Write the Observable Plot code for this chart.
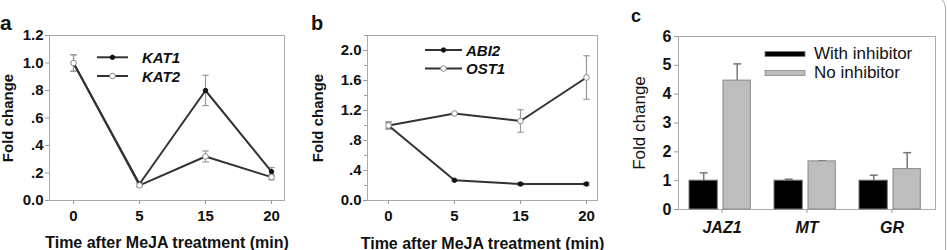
<!DOCTYPE html>
<html><head><meta charset="utf-8">
<script src="https://cdn.jsdelivr.net/npm/d3@7"></script>
<script src="https://cdn.jsdelivr.net/npm/@observablehq/plot@0.6"></script>
<style>
body{margin:0;background:#fff;}
#wrap{position:relative;width:947px;height:250px;overflow:hidden;background:#fff;font-family:"Liberation Sans",Arial,sans-serif;}
.panel{position:absolute;top:0;}
.panel svg{overflow:visible;}
#border{position:absolute;left:-20px;top:-4px;width:964px;height:300px;border:1px solid #aaa;border-radius:12px;pointer-events:none;}
#overlay{position:absolute;left:0;top:0;}
g[aria-label$="tick"]{stroke:#999;}
g[aria-label="y-axis label"], g[aria-label="x-axis label"]{font-size:16px;}
#pa g[aria-label="y-axis label"], #pb g[aria-label="y-axis label"]{font-size:15px;}
#pc g[aria-label="y-axis label"]{font-size:17px;font-weight:normal;}
#pc g[aria-label="x-axis tick label"]{font-style:italic;}
</style></head><body><div id="wrap"><div id="border"></div></div>
<script>
// ---- data ----
const times = ["0", "5", "15", "20"];
const kat1 = [1.0, 0.12, 0.80, 0.21];
const kat1Err = [0.06, 0.01, 0.11, 0.03];
const kat2 = [1.0, 0.11, 0.32, 0.17];
const kat2Err = [0.06, 0.01, 0.04, 0.02];
const abi2 = [1.0, 0.27, 0.22, 0.22];
const abi2Err = [0.04, 0.01, 0.02, 0.02];
const ost1 = [1.0, 1.16, 1.06, 1.64];
const ost1Err = [0.05, 0.01, 0.15, 0.29];
const genes = ["JAZ1", "MT", "GR"];
const withInhibitor = [1.0, 1.0, 1.0];
const withInhibitorErr = [0.27, 0.05, 0.19];
const noInhibitor = [4.47, 1.67, 1.40];
const noInhibitorErr = [0.58, 0.02, 0.57];
const aTicks = [0, 0.2, 0.4, 0.6, 0.8, 1.0, 1.2];
const bTicks = [0, 0.4, 0.8, 1.2, 1.6, 2.0];
const bMinor = [0.2, 0.6, 1.0, 1.4, 1.8, 2.2];
const cTicks = [0, 1, 2, 3, 4, 5, 6];

const font = '"Liberation Sans", Arial, sans-serif';
const wrap = document.getElementById("wrap");
const hbar = {draw(ctx, size) { const r = Math.sqrt(size) * 0.9; ctx.moveTo(-r, 0); ctx.lineTo(r, 0); }};
const fmt = d => d === 0 ? "0.0" : (d >= 1 ? d.toFixed(1) : d.toFixed(1).slice(1));

function addPanel(id, left, width, svg) {
  const div = document.createElement("div");
  div.className = "panel"; div.id = id;
  div.style.left = left + "px"; div.style.width = width + "px";
  div.appendChild(svg);
  wrap.appendChild(div);
}

function linePanel(o) {
  const marks = [Plot.frame({stroke: "#aaa"})];
  marks.push(Plot.axisY({ticks: o.yTicks, tickFormat: fmt, tickSize: 4, tickPadding: 2,
    label: "Fold change", labelAnchor: "center", labelOffset: o.labelOffset, labelArrow: false}));
  if (o.yMinor) marks.push(Plot.axisY({ticks: o.yMinor, tickFormat: () => "", tickSize: 3, label: null}));
  marks.push(Plot.axisX({ticks: [0, 1, 2, 3], tickFormat: i => times[i], tickSize: 4, tickPadding: 6,
    label: "Time after MeJA treatment (min)", labelAnchor: "center", labelOffset: o.xLabelOffset, labelArrow: false}));
  const sets = o.series.map(s => times.map((t, i) => ({i, v: s.values[i], e: s.err[i]})));
  sets.forEach(d => {
    marks.push(Plot.ruleX(d, {x: "i", y1: r => r.v - r.e, y2: r => r.v + r.e, stroke: "#999", strokeWidth: 1.2}));
    marks.push(Plot.dot(d, {x: "i", y: r => r.v + r.e, symbol: hbar, r: 2, stroke: "#999", strokeWidth: 1.2}));
    marks.push(Plot.dot(d, {x: "i", y: r => r.v - r.e, symbol: hbar, r: 2, stroke: "#999", strokeWidth: 1.2}));
  });
  sets.forEach(d => marks.push(Plot.line(d, {x: "i", y: "v", stroke: "#333", strokeWidth: 2})));
  sets.forEach((d, k) => {
    const filled = o.series[k].filled;
    marks.push(Plot.dot(d, {x: "i", y: "v", r: filled ? 2.2 : 2.8,
      fill: filled ? "#111" : "#fff", stroke: filled ? "#111" : "#888", strokeWidth: 1}));
  });
  return Plot.plot({
    width: o.width, height: 250,
    marginLeft: o.marginLeft, marginRight: o.marginRight, marginTop: 35, marginBottom: 50,
    style: {fontFamily: font, fontSize: "15px", fontWeight: "bold", color: "#111", background: "transparent"},
    x: {type: "linear", domain: o.xDomain},
    y: {domain: o.yDomain},
    marks
  });
}

addPanel("pa", 0, 310, linePanel({
  width: 310, marginLeft: 49, marginRight: 26, xDomain: [-0.364, 3.197], yDomain: [0, 1.2],
  yTicks: aTicks, labelOffset: 47, xLabelOffset: 47,
  series: [{values: kat1, err: kat1Err, filled: true}, {values: kat2, err: kat2Err, filled: false}]
}));

addPanel("pb", 310, 320, linePanel({
  width: 320, marginLeft: 57, marginRight: 33, xDomain: [-0.318, 3.167], yDomain: [0, 2.2],
  yTicks: bTicks, yMinor: bMinor, labelOffset: 55, xLabelOffset: 48,
  series: [{values: abi2, err: abi2Err, filled: true}, {values: ost1, err: ost1Err, filled: false}]
}));

// ---- panel c ----
const barRows = genes.map((g, i) => ({g, w: withInhibitor[i], we: withInhibitorErr[i], n: noInhibitor[i], ne: noInhibitorErr[i]}));
const pc = Plot.plot({
  width: 317, height: 250, marginLeft: 48, marginRight: 12, marginTop: 36, marginBottom: 41,
  style: {fontFamily: font, fontSize: "16px", fontWeight: "bold", color: "#111", background: "transparent"},
  x: {domain: genes, padding: 0},
  y: {domain: [0, 6]},
  marks: [
    Plot.frame({stroke: "#aaa"}),
    Plot.axisY({ticks: cTicks, tickFormat: d => String(d), tickSize: 4, tickPadding: 3,
      label: "Fold change", labelAnchor: "center", labelOffset: 46, labelArrow: false}),
    Plot.axisX({tickSize: 4, tickPadding: 8, label: null}),
    Plot.ruleX(barRows, {x: "g", y1: "w", y2: d => d.w + d.we, dx: -18.3, stroke: "#777", strokeWidth: 1.5}),
    Plot.dot(barRows, {x: "g", y: d => d.w + d.we, dx: -18.3, symbol: hbar, r: 2.5, stroke: "#777", strokeWidth: 1.5}),
    Plot.ruleX(barRows, {x: "g", y1: "n", y2: d => d.n + d.ne, dx: 15.2, stroke: "#777", strokeWidth: 1.5}),
    Plot.dot(barRows, {x: "g", y: d => d.n + d.ne, dx: 15.2, symbol: hbar, r: 2.5, stroke: "#777", strokeWidth: 1.5}),
    Plot.barY(barRows, {x: "g", y: "w", insetLeft: 10, insetRight: 46.7, fill: "#000", stroke: "#777", strokeWidth: 1}),
    Plot.barY(barRows, {x: "g", y: "n", insetLeft: 44, insetRight: 13.7, fill: "#bdbdbd", stroke: "#888", strokeWidth: 1})
  ]
});
addPanel("pc", 630, 317, pc);

// ---- overlay: panel letters and legends ----
const ns = "http://www.w3.org/2000/svg";
const ov = document.createElementNS(ns, "svg");
ov.setAttribute("id", "overlay"); ov.setAttribute("width", 947); ov.setAttribute("height", 250);
function el(tag, attrs, text) {
  const e = document.createElementNS(ns, tag);
  for (const k in attrs) e.setAttribute(k, attrs[k]);
  if (text != null) e.textContent = text;
  ov.appendChild(e); return e;
}
const T = {"font-family": font, fill: "#111"};
el("text", {...T, x: 0, y: 30, "font-size": 21, "font-weight": "bold"}, "a");
el("text", {...T, x: 311, y: 30, "font-size": 20, "font-weight": "bold"}, "b");
el("text", {...T, x: 631, y: 22, "font-size": 18, "font-weight": "bold"}, "c");

function lineLegend(x1, x2, y, label, filled, tx) {
  el("line", {x1, x2, y1: y, y2: y, stroke: "#333", "stroke-width": 2});
  el("circle", {cx: (x1 + x2) / 2, cy: y, r: filled ? 2.2 : 2.8, fill: filled ? "#111" : "#fff", stroke: filled ? "#111" : "#888"});
  el("text", {...T, x: tx, y: y + 5.5, "font-size": 15, "font-weight": "bold", "font-style": "italic"}, label);
}
lineLegend(97, 128, 57.3, "KAT1", true, 142);
lineLegend(97, 128, 76, "KAT2", false, 142);
lineLegend(425, 462, 50, "ABI2", true, 466);
lineLegend(425, 462, 68.5, "OST1", false, 466);

el("rect", {x: 765, y: 51.5, width: 40, height: 5, fill: "#000", stroke: "#777", "stroke-width": 0.8});
el("text", {...T, x: 814, y: 58.5, "font-size": 17}, "With inhibitor");
el("rect", {x: 765, y: 70.5, width: 40, height: 5, fill: "#bdbdbd", stroke: "#888", "stroke-width": 0.8});
el("text", {...T, x: 814, y: 77.5, "font-size": 17}, "No inhibitor");
wrap.appendChild(ov);
</script>
</body></html>
